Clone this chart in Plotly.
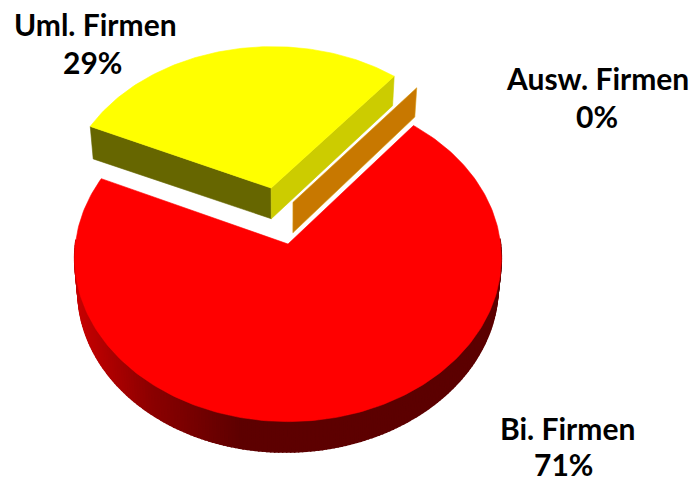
import numpy as np
import plotly.graph_objects as go

# data
labels = ["Bi. Firmen", "Uml. Firmen", "Ausw. Firmen"]
values = [71, 29, 0]

# style / view
colors_top = ["#ff0000", "#ffff00", "#c87800"]
explode = [0.0, 0.364, 0.263]
explode_angle = [0.0, -13.0, 5.2]
radius = [1.0, 1.0, 1.01]
start_angle = 39.0
CX, CY, AX, BY, K = 288.0, 244.0, 212.6, 162.5, 0.085
DEPTH = 30.5
label_x = [567, 95, 597]
label_y = [428, 24, 78]
pct_x = [563, 92, 597]
pct_y = [464, 62, 116]


def top(u, v):
    d = 1 + K * np.asarray(v, float)
    return CX + AX * np.asarray(u, float) / d, CY - BY * np.asarray(v, float) / d


def bottom(u, v):
    x, y = top(u, v)
    dx = x - CX
    return CX + dx * 0.985, y + DEPTH - 0.01 * dx


def poly(xs, ys, color, line=None, width=0.6):
    return go.Scatter(x=list(xs), y=list(ys), mode="lines", fill="toself", fillcolor=color,
                      line=dict(color=line or color, width=width), hoverinfo="skip", showlegend=False)


def shade(x):
    r = np.interp(x, [74, 150, 240, 502], [200, 140, 94, 92])
    return f"rgb({int(r)},0,0)"


fig = go.Figure()
total = sum(values)
spans = [v / total * 360 for v in values]
starts = [start_angle + sum(spans[:i]) for i in range(len(values))]


def geometry(i):
    ang = np.radians(explode_angle[i])
    ou, ov = explode[i] * np.sin(ang), explode[i] * np.cos(ang)
    th = np.radians(np.linspace(starts[i], starts[i] + spans[i], max(2, int(spans[i]) + 1)))
    return ou, ov, ou + radius[i] * np.sin(th), ov + radius[i] * np.cos(th)


# red slice: near part of the rim wall, then top face
ou, ov, ru, rv = geometry(0)
tx, ty = top(ru, rv)
bx, by = bottom(ru, rv)
for j in range(len(ru) - 1):
    if rv[j] > 0.02 and rv[j + 1] > 0.02:
        continue
    xs = [tx[j], tx[j + 1], bx[j + 1], bx[j], tx[j]]
    ys = [ty[j], ty[j + 1], by[j + 1], by[j], ty[j]]
    fig.add_trace(poly(xs, ys, shade((tx[j] + tx[j + 1]) / 2), width=1.5))
ax, ay = top(ou, ov)
fig.add_trace(poly([float(ax)] + list(tx) + [float(ax)], [float(ay)] + list(ty) + [float(ay)], colors_top[0]))

# zero slice: a single standing wall
ou, ov, ru, rv = geometry(2)
ax, ay = top(ou, ov)
abx, aby = bottom(ou, ov)
ex, ey = top(ru[0], rv[0])
ebx, eby = bottom(ru[0], rv[0])
fig.add_trace(poly([ax, ex, ebx, abx, ax], [ay, ey, eby, aby, ay], colors_top[2], "#d89a10"))

# yellow slice: two cut walls then top face
ou, ov, ru, rv = geometry(1)
ax, ay = top(ou, ov)
abx, aby = bottom(ou, ov)
tx, ty = top(ru, rv)
bx, by = bottom(ru, rv)
fig.add_trace(poly([ax, tx[0], bx[0], abx, ax], [ay, ty[0], by[0], aby, ay], "#666600"))
fig.add_trace(poly([ax, tx[-1], bx[-1], abx, ax], [ay, ty[-1], by[-1], aby, ay], "#cccc00"))
fig.add_trace(poly([float(ax)] + list(tx) + [float(ax)], [float(ay)] + list(ty) + [float(ay)], colors_top[1]))

font = dict(family="Lato", size=30, color="black", weight="bold")
for i, name in enumerate(labels):
    fig.add_annotation(x=label_x[i], y=label_y[i], text=f"<b>{name}</b>", showarrow=False,
                       font=font, xanchor="center", yanchor="middle")
    fig.add_annotation(x=pct_x[i], y=pct_y[i], text=f"<b>{values[i]}%</b>", showarrow=False,
                       font=font, xanchor="center", yanchor="middle")

fig.update_layout(width=690, height=481, margin=dict(l=0, r=0, t=0, b=0),
                  paper_bgcolor="white", plot_bgcolor="white", showlegend=False,
                  xaxis=dict(range=[0, 690], visible=False, fixedrange=True),
                  yaxis=dict(range=[481, 0], visible=False, fixedrange=True))
fig.write_html("out.html", config=dict(displayModeBar=False),
               post_script="document.body.style.margin='0';document.documentElement.style.overflow='hidden';")
